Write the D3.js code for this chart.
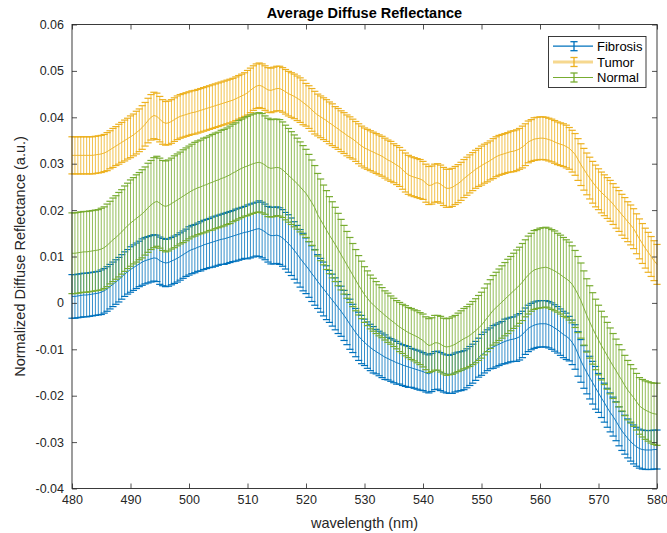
<!DOCTYPE html>
<html>
<head>
<meta charset="utf-8">
<script src="https://cdn.jsdelivr.net/npm/d3@7"></script>
<style>
  body { margin: 0; background: #fff; }
  svg { display: block; font-family: "Liberation Sans", Arial, Helvetica, sans-serif; }
</style>
</head>
<body>
<svg id="chart" width="667" height="533"></svg>
<script>
// Wavelength sampling (nm): one sample every 0.5 nm from 480 nm
const wlStart = 480;
const wlStep = 0.5;

const xTicks = [480, 490, 500, 510, 520, 530, 540, 550, 560, 570, 580];
const yTicks = [-0.04, -0.03, -0.02, -0.01, 0, 0.01, 0.02, 0.03, 0.04, 0.05, 0.06];

const seriesNames = ["Fibrosis", "Tumor", "Normal"];

// Fibrosis: mean and standard deviation
const fibrosisMean = [
  .0014,.0014,.0015,.0016,.0017,.0017,.0018,.0019,.0020,.0021,
  .0023,.0026,.0030,.0035,.0040,.0045,.0050,.0056,.0062,.0067,
  .0072,.0076,.0080,.0084,.0088,.0091,.0093,.0095,.0097,.0096,
  .0091,.0088,.0086,.0087,.0090,.0093,.0096,.0100,.0104,.0108,
  .0112,.0115,.0117,.0120,.0122,.0125,.0127,.0129,.0131,.0133,
  .0135,.0137,.0138,.0140,.0142,.0144,.0146,.0148,.0150,.0152,
  .0153,.0155,.0157,.0159,.0160,.0157,.0153,.0148,.0145,.0145,
  .0146,.0144,.0140,.0134,.0128,.0121,.0113,.0105,.0096,.0088,
  .0080,.0072,.0063,.0055,.0046,.0038,.0030,.0022,.0014,.0006,
  -.0002,-.0010,-.0018,-.0027,-.0036,-.0046,-.0055,-.0064,-.0072,-.0079,
  -.0085,-.0091,-.0096,-.0101,-.0105,-.0109,-.0113,-.0117,-.0120,-.0123,
  -.0126,-.0129,-.0131,-.0134,-.0136,-.0138,-.0140,-.0142,-.0144,-.0146,
  -.0148,-.0151,-.0153,-.0150,-.0146,-.0145,-.0148,-.0151,-.0153,-.0154,
  -.0153,-.0150,-.0148,-.0147,-.0145,-.0141,-.0136,-.0131,-.0125,-.0118,
  -.0112,-.0107,-.0102,-.0098,-.0095,-.0092,-.0089,-.0086,-.0083,-.0081,
  -.0079,-.0078,-.0076,-.0073,-.0068,-.0061,-.0055,-.0051,-.0048,-.0046,
  -.0045,-.0045,-.0045,-.0047,-.0050,-.0054,-.0058,-.0063,-.0068,-.0072,
  -.0077,-.0085,-.0095,-.0110,-.0125,-.0138,-.0150,-.0161,-.0172,-.0183,
  -.0194,-.0205,-.0215,-.0226,-.0236,-.0245,-.0255,-.0266,-.0276,-.0284,
  -.0292,-.0299,-.0305,-.0310,-.0314,-.0316,-.0317,-.0317,-.0317,-.0316,
  -.0316
];
const fibrosisErr = [
  .0047,.0047,.0047,.0047,.0047,.0047,.0047,.0047,.0047,.0047,
  .0048,.0048,.0048,.0048,.0048,.0048,.0048,.0048,.0048,.0048,
  .0049,.0049,.0049,.0049,.0050,.0050,.0050,.0050,.0050,.0050,
  .0051,.0051,.0051,.0051,.0051,.0051,.0051,.0051,.0051,.0051,
  .0052,.0052,.0052,.0052,.0053,.0053,.0053,.0053,.0054,.0054,
  .0054,.0054,.0055,.0055,.0055,.0055,.0056,.0056,.0056,.0056,
  .0058,.0058,.0058,.0058,.0060,.0060,.0060,.0060,.0061,.0061,
  .0061,.0061,.0061,.0061,.0062,.0062,.0062,.0062,.0062,.0062,
  .0060,.0060,.0060,.0060,.0058,.0058,.0058,.0058,.0056,.0056,
  .0056,.0056,.0054,.0054,.0054,.0054,.0052,.0052,.0052,.0052,
  .0050,.0050,.0050,.0050,.0048,.0048,.0048,.0048,.0046,.0046,
  .0046,.0046,.0044,.0044,.0044,.0044,.0042,.0042,.0042,.0042,
  .0041,.0041,.0041,.0041,.0041,.0041,.0041,.0041,.0041,.0041,
  .0042,.0042,.0042,.0042,.0042,.0042,.0042,.0042,.0042,.0042,
  .0044,.0044,.0044,.0044,.0046,.0046,.0046,.0046,.0048,.0048,
  .0048,.0048,.0050,.0050,.0050,.0050,.0050,.0050,.0050,.0050,
  .0050,.0050,.0050,.0050,.0050,.0050,.0050,.0050,.0050,.0050,
  .0048,.0048,.0048,.0048,.0046,.0046,.0046,.0046,.0046,.0046,
  .0042,.0042,.0042,.0042,.0042,.0042,.0042,.0042,.0042,.0042,
  .0042,.0042,.0042,.0042,.0042,.0042,.0042,.0042,.0042,.0042,
  .0042
];

// Tumor: mean and standard deviation
const tumorMean = [
  .0318,.0318,.0318,.0318,.0318,.0318,.0318,.0318,.0319,.0320,
  .0321,.0323,.0326,.0330,.0334,.0338,.0342,.0346,.0350,.0354,
  .0358,.0362,.0367,.0372,.0378,.0385,.0393,.0400,.0404,.0402,
  .0396,.0390,.0387,.0388,.0391,.0395,.0399,.0402,.0404,.0406,
  .0408,.0410,.0411,.0413,.0415,.0417,.0419,.0421,.0423,.0425,
  .0427,.0429,.0431,.0433,.0435,.0437,.0440,.0443,.0446,.0449,
  .0453,.0458,.0463,.0467,.0469,.0467,.0463,.0459,.0458,.0460,
  .0462,.0462,.0459,.0455,.0451,.0448,.0445,.0441,.0437,.0432,
  .0427,.0422,.0416,.0410,.0405,.0401,.0397,.0393,.0388,.0384,
  .0379,.0375,.0370,.0366,.0361,.0357,.0353,.0348,.0343,.0338,
  .0334,.0331,.0328,.0325,.0322,.0319,.0316,.0312,.0308,.0305,
  .0301,.0297,.0293,.0287,.0281,.0276,.0273,.0271,.0269,.0267,
  .0264,.0258,.0253,.0254,.0258,.0259,.0256,.0251,.0247,.0247,
  .0249,.0253,.0257,.0262,.0268,.0273,.0278,.0283,.0288,.0292,
  .0296,.0300,.0303,.0307,.0311,.0315,.0318,.0320,.0322,.0324,
  .0326,.0327,.0329,.0332,.0336,.0341,.0347,.0350,.0353,.0354,
  .0355,.0355,.0354,.0352,.0350,.0347,.0344,.0342,.0340,.0337,
  .0333,.0327,.0320,.0309,.0298,.0288,.0278,.0269,.0260,.0252,
  .0245,.0238,.0232,.0226,.0220,.0213,.0205,.0198,.0190,.0183,
  .0175,.0168,.0160,.0149,.0138,.0128,.0118,.0109,.0100,.0091,
  .0083
];
const tumorErr = [
  .0040,.0040,.0040,.0040,.0040,.0040,.0040,.0040,.0040,.0040,
  .0040,.0040,.0041,.0041,.0042,.0042,.0043,.0043,.0044,.0044,
  .0045,.0045,.0046,.0046,.0047,.0047,.0048,.0049,.0050,.0050,
  .0049,.0048,.0047,.0047,.0047,.0047,.0047,.0047,.0047,.0047,
  .0047,.0047,.0047,.0047,.0047,.0047,.0047,.0047,.0047,.0047,
  .0047,.0047,.0047,.0047,.0047,.0047,.0047,.0047,.0047,.0047,
  .0048,.0048,.0048,.0048,.0048,.0048,.0048,.0048,.0048,.0048,
  .0048,.0048,.0048,.0048,.0048,.0048,.0048,.0048,.0048,.0048,
  .0046,.0046,.0046,.0046,.0045,.0045,.0045,.0045,.0045,.0045,
  .0044,.0044,.0044,.0044,.0044,.0044,.0043,.0043,.0043,.0043,
  .0043,.0043,.0043,.0043,.0043,.0043,.0043,.0043,.0043,.0043,
  .0042,.0042,.0042,.0042,.0042,.0042,.0042,.0042,.0042,.0042,
  .0041,.0041,.0041,.0041,.0041,.0041,.0041,.0041,.0041,.0041,
  .0041,.0041,.0041,.0041,.0041,.0041,.0041,.0041,.0041,.0041,
  .0042,.0042,.0042,.0042,.0043,.0043,.0043,.0043,.0043,.0043,
  .0044,.0044,.0044,.0044,.0045,.0045,.0045,.0045,.0046,.0046,
  .0046,.0046,.0046,.0046,.0046,.0046,.0046,.0046,.0046,.0046,
  .0045,.0045,.0045,.0045,.0045,.0045,.0045,.0045,.0045,.0045,
  .0044,.0044,.0044,.0044,.0044,.0044,.0044,.0044,.0044,.0044,
  .0043,.0043,.0043,.0043,.0043,.0043,.0043,.0043,.0043,.0043,
  .0043
];

// Normal: mean and standard deviation
const normalMean = [
  .0107,.0107,.0108,.0109,.0110,.0110,.0111,.0112,.0113,.0114,
  .0116,.0119,.0124,.0130,.0136,.0141,.0147,.0153,.0160,.0166,
  .0172,.0177,.0182,.0187,.0192,.0198,.0205,.0211,.0216,.0219,
  .0215,.0210,.0208,.0210,.0214,.0218,.0222,.0226,.0230,.0234,
  .0238,.0242,.0245,.0248,.0250,.0253,.0255,.0258,.0260,.0263,
  .0265,.0268,.0270,.0273,.0276,.0280,.0283,.0287,.0290,.0293,
  .0295,.0298,.0300,.0302,.0303,.0301,.0297,.0292,.0290,.0291,
  .0292,.0291,.0287,.0281,.0275,.0269,.0263,.0257,.0250,.0243,
  .0236,.0226,.0216,.0205,.0190,.0179,.0168,.0157,.0146,.0136,
  .0126,.0115,.0104,.0093,.0082,.0071,.0060,.0049,.0038,.0028,
  .0018,.0010,.0002,-.0004,-.0010,-.0016,-.0021,-.0027,-.0032,-.0037,
  -.0042,-.0047,-.0052,-.0056,-.0060,-.0064,-.0067,-.0070,-.0073,-.0077,
  -.0081,-.0087,-.0092,-.0090,-.0086,-.0086,-.0089,-.0093,-.0095,-.0094,
  -.0092,-.0089,-.0085,-.0081,-.0077,-.0074,-.0070,-.0065,-.0060,-.0054,
  -.0048,-.0040,-.0032,-.0024,-.0016,-.0010,-.0004,.0002,.0008,.0014,
  .0020,.0026,.0032,.0038,.0045,.0053,.0060,.0066,.0071,.0073,
  .0075,.0076,.0077,.0075,.0072,.0069,.0065,.0061,.0056,.0052,
  .0047,.0040,.0030,.0018,.0005,-.0011,-.0027,-.0041,-.0055,-.0068,
  -.0080,-.0092,-.0103,-.0114,-.0125,-.0136,-.0146,-.0157,-.0167,-.0178,
  -.0188,-.0196,-.0204,-.0213,-.0222,-.0227,-.0231,-.0234,-.0237,-.0239,
  -.0240
];
const normalErr = [
  .0087,.0087,.0087,.0087,.0087,.0087,.0087,.0087,.0087,.0087,
  .0088,.0088,.0089,.0089,.0090,.0090,.0091,.0091,.0092,.0092,
  .0093,.0093,.0094,.0094,.0095,.0095,.0096,.0096,.0097,.0097,
  .0097,.0097,.0098,.0098,.0098,.0099,.0099,.0099,.0100,.0100,
  .0100,.0100,.0101,.0101,.0101,.0102,.0102,.0102,.0103,.0103,
  .0103,.0104,.0104,.0104,.0105,.0105,.0105,.0106,.0106,.0106,
  .0107,.0107,.0107,.0107,.0107,.0107,.0106,.0106,.0105,.0105,
  .0104,.0104,.0103,.0102,.0101,.0100,.0099,.0098,.0097,.0096,
  .0095,.0094,.0092,.0091,.0089,.0088,.0086,.0085,.0083,.0082,
  .0080,.0078,.0076,.0074,.0072,.0070,.0068,.0066,.0064,.0062,
  .0060,.0059,.0058,.0057,.0056,.0055,.0054,.0053,.0053,.0052,
  .0052,.0052,.0053,.0053,.0054,.0054,.0055,.0055,.0056,.0056,
  .0057,.0057,.0058,.0058,.0059,.0059,.0060,.0060,.0061,.0061,
  .0062,.0062,.0063,.0064,.0065,.0066,.0067,.0068,.0069,.0070,
  .0071,.0072,.0073,.0074,.0075,.0076,.0077,.0078,.0079,.0080,
  .0080,.0081,.0082,.0082,.0083,.0083,.0084,.0084,.0085,.0085,
  .0086,.0086,.0086,.0086,.0086,.0086,.0085,.0085,.0085,.0084,
  .0084,.0083,.0083,.0082,.0081,.0080,.0079,.0078,.0077,.0076,
  .0075,.0074,.0073,.0072,.0071,.0070,.0068,.0067,.0066,.0065,
  .0064,.0063,.0062,.0061,.0061,.0062,.0063,.0064,.0065,.0066,
  .0067
];

const seriesColors = ["#0072BD", "#EDB120", "#77AC30"];

const series = [
  { name: seriesNames[0], mean: fibrosisMean, err: fibrosisErr, color: seriesColors[0] },
  { name: seriesNames[1], mean: tumorMean,    err: tumorErr,    color: seriesColors[1] },
  { name: seriesNames[2], mean: normalMean,   err: normalErr,   color: seriesColors[2] }
];

const plot = { left: 72, right: 657, top: 24.5, bottom: 488.5 };
const axisColor = "#262626";

const svg = d3.select("#chart");

const x = d3.scaleLinear().domain([480, 580]).range([plot.left, plot.right]);
const y = d3.scaleLinear().domain([-0.04, 0.06]).range([plot.bottom, plot.top]);

const yFmt = d => d === 0 ? "0" : d3.format(".2f")(d).replace("\u2212", "-");

const capHalf = 3.6;
const dataLayer = svg.append("g");

series.forEach(s => {
  const pts = s.mean.map((m, i) => ({ wl: wlStart + i * wlStep, m, e: s.err[i] }));
  const g = dataLayer.append("g").attr("class", "series");

  // vertical error bars
  g.append("g").selectAll("line").data(pts).join("line")
    .attr("x1", d => x(d.wl)).attr("x2", d => x(d.wl))
    .attr("y1", d => y(d.m - d.e)).attr("y2", d => y(d.m + d.e))
    .attr("stroke", s.color).attr("stroke-width", 0.8);

  // caps
  const caps = pts.flatMap(d => [d.m - d.e, d.m + d.e].map(v => ({ wl: d.wl, v })));
  g.append("g").selectAll("line").data(caps).join("line")
    .attr("x1", d => x(d.wl) - capHalf).attr("x2", d => x(d.wl) + capHalf)
    .attr("y1", d => y(d.v)).attr("y2", d => y(d.v))
    .attr("stroke", s.color).attr("stroke-width", 1.2);

  // mean spectrum
  g.append("path").datum(pts)
    .attr("fill", "none").attr("stroke", s.color).attr("stroke-width", 0.9)
    .attr("d", d3.line().x(d => x(d.wl)).y(d => y(d.m)));
});

// axes (ticks point inward on all four sides)
const tickLen = 5;
const styleAxis = g => {
  g.selectAll(".domain").remove();
  g.selectAll(".tick line").attr("stroke", axisColor).attr("stroke-width", 0.8);
  g.selectAll(".tick text").attr("fill", axisColor).attr("font-size", 12.5)
    .attr("font-family", "\"Liberation Sans\", Arial, sans-serif");
};

svg.append("g").attr("transform", `translate(0,${plot.bottom})`)
  .call(d3.axisBottom(x).tickValues(xTicks).tickSizeInner(-tickLen).tickSizeOuter(0).tickPadding(7).tickFormat(d3.format("d")))
  .call(styleAxis);
svg.append("g").attr("transform", `translate(0,${plot.top})`)
  .call(d3.axisTop(x).tickValues(xTicks).tickSizeInner(-tickLen).tickSizeOuter(0).tickFormat(""))
  .call(styleAxis);
svg.append("g").attr("transform", `translate(${plot.left},0)`)
  .call(d3.axisLeft(y).tickValues(yTicks).tickSizeInner(-tickLen).tickSizeOuter(0).tickPadding(8).tickFormat(yFmt))
  .call(styleAxis);
svg.append("g").attr("transform", `translate(${plot.right},0)`)
  .call(d3.axisRight(y).tickValues(yTicks).tickSizeInner(-tickLen).tickSizeOuter(0).tickFormat(""))
  .call(styleAxis);

// axes box
svg.append("rect")
  .attr("x", plot.left).attr("y", plot.top)
  .attr("width", plot.right - plot.left).attr("height", plot.bottom - plot.top)
  .attr("fill", "none").attr("stroke", axisColor).attr("stroke-width", 0.9);

// title and axis labels
svg.append("text")
  .attr("x", (plot.left + plot.right) / 2).attr("y", 18)
  .attr("text-anchor", "middle").attr("font-size", 14.5).attr("font-weight", "bold")
  .attr("fill", "#000")
  .text("Average Diffuse Reflectance");

svg.append("text")
  .attr("x", (plot.left + plot.right) / 2).attr("y", 528)
  .attr("text-anchor", "middle").attr("font-size", 14.5)
  .attr("fill", axisColor)
  .text("wavelength (nm)");

svg.append("text")
  .attr("transform", `translate(25,${(plot.top + plot.bottom) / 2}) rotate(-90)`)
  .attr("text-anchor", "middle").attr("font-size", 14.5)
  .attr("fill", axisColor)
  .text("Normalized Diffuse Reflectance (a.u.)");

// legend
const legend = svg.append("g");
const lg = { x: 548.5, y: 36.5, w: 97.5, h: 51 };
legend.append("rect")
  .attr("x", lg.x).attr("y", lg.y).attr("width", lg.w).attr("height", lg.h)
  .attr("fill", "#fff").attr("stroke", axisColor).attr("stroke-width", 0.9);

const rowY = [46.2, 62, 77.5];
const legendLine = [
  { width: 1.2, opacity: 1 },
  { width: 3, opacity: 0.5 },
  { width: 1.2, opacity: 1 }
];
series.forEach((s, i) => {
  const cy = rowY[i];
  const row = legend.append("g");
  row.append("line")
    .attr("x1", 553).attr("x2", 593).attr("y1", cy).attr("y2", cy)
    .attr("stroke", s.color).attr("stroke-width", legendLine[i].width)
    .attr("stroke-opacity", legendLine[i].opacity);
  row.append("line")
    .attr("x1", 574).attr("x2", 574).attr("y1", cy - 4.5).attr("y2", cy + 4.5)
    .attr("stroke", s.color).attr("stroke-width", 1.3);
  [cy - 4.5, cy + 4.5].forEach(v => row.append("line")
    .attr("x1", 574 - capHalf).attr("x2", 574 + capHalf).attr("y1", v).attr("y2", v)
    .attr("stroke", s.color).attr("stroke-width", 1.3));
  row.append("text")
    .attr("x", 597).attr("y", cy).attr("dy", "0.35em")
    .attr("font-size", 13).attr("fill", "#000")
    .text(s.name);
});
</script>
</body>
</html>
